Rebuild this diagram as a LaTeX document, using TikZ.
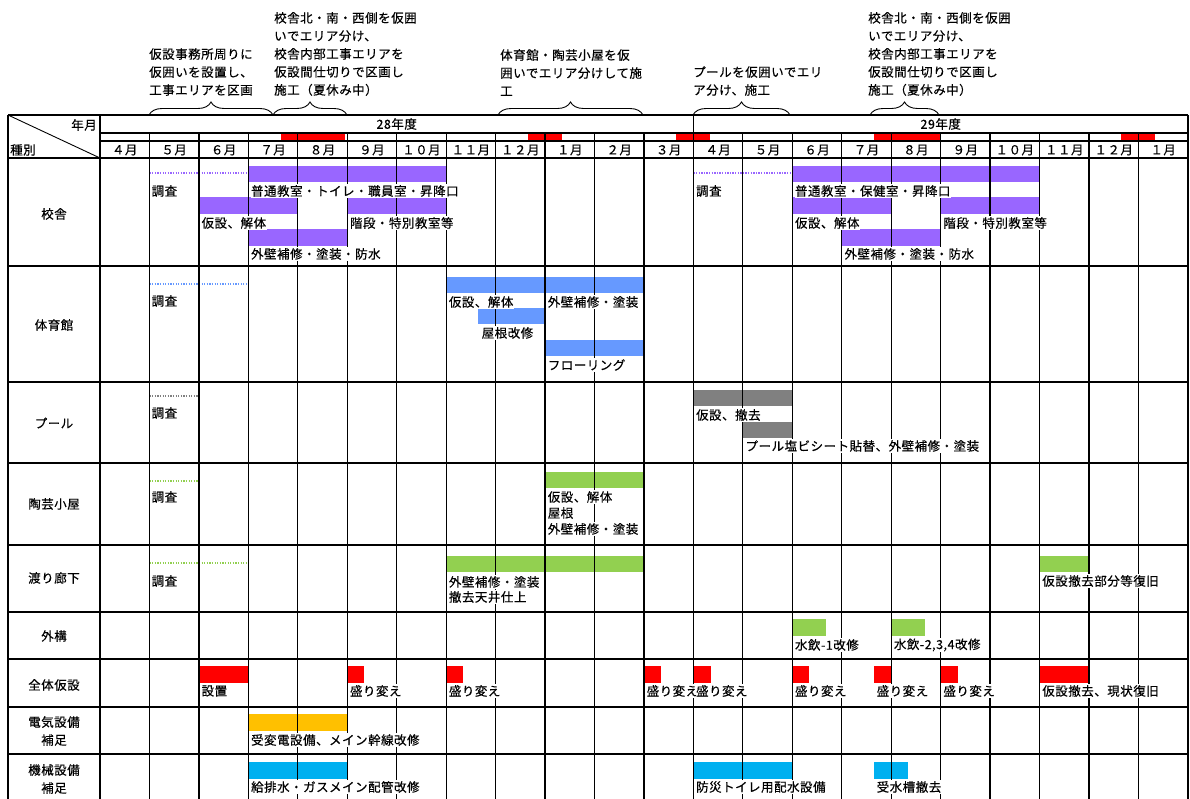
\documentclass[tikz,border=0pt]{standalone}
\usepackage{fontspec}
\newfontfamily\jp[LetterSpace=4,FakeBold=0.4]{Noto Sans CJK JP}
\usetikzlibrary{decorations.pathreplacing}
\definecolor{cpurple}{HTML}{9966FF}
\definecolor{cblue}{HTML}{6699FF}
\definecolor{cgray}{HTML}{808080}
\definecolor{cgreen}{HTML}{92D050}
\definecolor{cred}{HTML}{FF0000}
\definecolor{corange}{HTML}{FFC000}
\definecolor{ccyan}{HTML}{00B0F0}
\begin{document}
\begin{tikzpicture}[x=1pt,y=-1pt,
  every node/.style={font=\jp\fontsize{12.5}{18}\selectfont, inner sep=0pt},
  lab/.style={anchor=west, fill=white, inner xsep=0.5pt, inner ysep=1pt},
  cat/.style={align=center},
  note/.style={anchor=south west, align=left},
  gridline/.style={line width=1.25pt, black},
  survey/.style={line width=1.5pt, dash pattern=on 1.3pt off 1.3pt},
  brc/.style={decorate, decoration={brace, amplitude=13pt}, line width=0.9pt},
]
\useasboundingbox (0,0) rectangle (1190,799);

% ---------- annotations above the table ----------
\node[note] (n1) at (149,96) {仮設事務所周りに\\仮囲いを設置し、\\工事エリアを区画};
\node[note] (n2) at (274,96) {校舎北・南・西側を仮囲\\いでエリア分け、\\校舎内部工事エリアを\\仮設間仕切りで区画し\\施工（夏休み中）};
\node[note] (n3) at (500,96) {体育館・陶芸小屋を仮\\囲いでエリア分けして施\\工};
\node[note] (n4) at (693,96) {プールを仮囲いでエリ\\ア分け、施工};
\node[note] (n5) at (868,96) {校舎北・南・西側を仮囲\\いでエリア分け、\\校舎内部工事エリアを\\仮設間仕切りで区画し\\施工（夏休み中）};
\coordinate (b1a) at (149,115); \coordinate (b1b) at (273,115);
\coordinate (b2a) at (273,115); \coordinate (b2b) at (347,115);
\coordinate (b3a) at (498,115); \coordinate (b3b) at (643,115);
\coordinate (b4a) at (693,115); \coordinate (b4b) at (790,115);
\coordinate (b5a) at (870,115); \coordinate (b5b) at (939,115);
\draw[brc] (b1a) -- (b1b);
\draw[brc] (b2a) -- (b2b);
\draw[brc] (b3a) -- (b3b);
\draw[brc] (b4a) -- (b4b);
\draw[brc] (b5a) -- (b5b);

% ---------- red marks in header strip ----------
\fill[cred] (281,133) rectangle (345,141);
\fill[cred] (528,133) rectangle (562,141);
\fill[cred] (676,133) rectangle (710,141);
\fill[cred] (874,133) rectangle (940.7,141);
\fill[cred] (1121,133) rectangle (1155,141);

% ---------- bars ----------
% 校舎
\fill[cpurple] (248.4,166) rectangle (446.2,182.5);
\fill[cpurple] (198.9,197.5) rectangle (297.8,214);
\fill[cpurple] (347.3,197.5) rectangle (446.2,214);
\fill[cpurple] (248.4,229.5) rectangle (347.3,246);
\fill[cpurple] (792.3,166) rectangle (1039.6,182.5);
\fill[cpurple] (792.3,197.5) rectangle (891.2,214);
\fill[cpurple] (940.7,197.5) rectangle (1039.6,214);
\fill[cpurple] (841.8,229.5) rectangle (940.7,246);
\draw[survey, cpurple] (149.5,173) -- (248.4,173);
\draw[survey, cpurple] (693.4,173) -- (792.3,173);
% 体育館
\fill[cblue] (446.2,277) rectangle (644,293);
\fill[cblue] (478,308) rectangle (545.1,324);
\fill[cblue] (545.1,340) rectangle (644,356);
\draw[survey, cblue] (149.5,284) -- (248.4,284);
% プール
\fill[cgray] (693.4,390) rectangle (792.3,406);
\fill[cgray] (742.9,422) rectangle (792.3,438);
\draw[survey, cgray] (149.5,396) -- (198.9,396);
% 陶芸小屋
\fill[cgreen] (545.1,472) rectangle (644,488);
\draw[survey, cgreen] (149.5,481) -- (198.9,481);
% 渡り廊下
\fill[cgreen] (446.2,556) rectangle (644,572);
\fill[cgreen] (1039.6,556) rectangle (1089,572);
\draw[survey, cgreen] (149.5,563) -- (248.4,563);
% 外構
\fill[cgreen] (792.3,619) rectangle (826,636);
\fill[cgreen] (891.2,619) rectangle (925,636);
% 全体仮設
\foreach \a/\b in {198.9/248.4, 347.3/364, 446.2/463, 644/661, 693.4/711, 792.3/809, 874/891.2, 940.7/957.5, 1039.6/1089}
  \fill[cred] (\a,666) rectangle (\b,683);
% 電気設備補足
\fill[corange] (248.4,714) rectangle (347.3,730.5);
% 機械設備補足
\fill[ccyan] (248.4,762) rectangle (347.3,778.5);
\fill[ccyan] (693.4,762) rectangle (792.3,778.5);
\fill[ccyan] (874,762) rectangle (908,778.5);

% ---------- grid ----------
\draw[gridline] (8,115) -- (1187.9,115);
\draw[gridline] (100,133) -- (1187.9,133);
\draw[gridline] (100,141) -- (1187.9,141);
\foreach \y in {158,266,382,463,545,612,659,707,754}
  \draw[gridline] (8,\y) -- (1187.9,\y);
\draw[gridline] (8,115) -- (8,799);
\draw[gridline] (100,115) -- (100,799);
\draw[gridline] (693.4,115) -- (693.4,799);
\draw[gridline] (1187.9,115) -- (1187.9,799);
\foreach \i in {1,...,21}
  \draw[gridline] ({100+49.45*\i},133) -- ({100+49.45*\i},799);
\draw[line width=0.9pt] (8,115) -- (100,158);

% ---------- header texts ----------
\node[anchor=east] (hym) at (97,125) {年月};
\node[anchor=west] (hsb) at (10,150) {種別};
\node (y28) at (396.7,124) {28年度};
\node (y29) at (940.7,124) {29年度};
\foreach \i/\t in {0/４月,1/５月,2/６月,3/７月,4/８月,5/９月,6/１０月,7/１１月,8/１２月,9/１月,10/２月,11/３月,12/４月,13/５月,14/６月,15/７月,16/８月,17/９月,18/１０月,19/１１月,20/１２月,21/１月}
  \node (mon\i) at ({100+49.45*(\i+0.5)},150) {\t};

% ---------- category labels ----------
\node[cat] (c1) at (54,214) {校舎};
\node[cat] (c2) at (54,325) {体育館};
\node[cat] (c3) at (54,423) {プール};
\node[cat] (c4) at (54,504) {陶芸小屋};
\node[cat] (c5) at (54,578) {渡り廊下};
\node[cat] (c6) at (54,636) {外構};
\node[cat] (c7) at (54,685) {全体仮設};
\node[cat] (c8) at (54,731) {電気設備\\補足};
\node[cat] (c9) at (54,779) {機械設備\\補足};

% ---------- bar labels ----------
% 校舎
\node[lab] (l1) at (151,191) {調査};
\node[lab] (l2) at (250.4,191) {普通教室・トイレ・職員室・昇降口};
\node[lab] (l3) at (200.9,223) {仮設、解体};
\node[lab] (l4) at (349.3,223) {階段・特別教室等};
\node[lab] (l5) at (250.4,254) {外壁補修・塗装・防水};
\node[lab] (l6) at (695.4,191) {調査};
\node[lab] (l7) at (794.3,191) {普通教室・保健室・昇降口};
\node[lab] (l8) at (794.3,223) {仮設、解体};
\node[lab] (l9) at (942.7,223) {階段・特別教室等};
\node[lab] (l10) at (843.8,254) {外壁補修・塗装・防水};
% 体育館
\node[lab] (l11) at (151,301) {調査};
\node[lab] (l12) at (448.2,302) {仮設、解体};
\node[lab] (l13) at (547.1,302) {外壁補修・塗装};
\node[lab] (l14) at (481,333) {屋根改修};
\node[lab] (l15) at (547.1,365) {フローリング};
% プール
\node[lab] (l16) at (151,413) {調査};
\node[lab] (l17) at (695.4,415) {仮設、撤去};
\node[lab] (l18) at (744.9,446) {プール塩ビシート貼替、外壁補修・塗装};
% 陶芸小屋
\node[lab] (l19) at (151,497) {調査};
\node[lab] (l20) at (547.1,497) {仮設、解体};
\node[lab] (l21) at (547.1,513) {屋根};
\node[lab] (l22) at (547.1,529) {外壁補修・塗装};
% 渡り廊下
\node[lab] (l23) at (151,581) {調査};
\node[lab] (l24) at (448.2,582) {外壁補修・塗装};
\node[lab] (l25) at (448.2,597) {撤去天井仕上};
\node[lab] (l26) at (1041.6,581) {仮設撤去部分等復旧};
% 外構
\node[lab] (l27) at (794.3,645) {水飲-1改修};
\node[lab] (l28) at (893.2,645) {水飲-2,3,4改修};
% 全体仮設
\node[lab] (l29) at (200.9,691) {設置};
\node[lab] (l30) at (349.3,691) {盛り変え};
\node[lab] (l31) at (448.2,691) {盛り変え};
\node[lab] (l32) at (646,691) {盛り変え};
\node[lab] (l33) at (695.4,691) {盛り変え};
\node[lab] (l34) at (794.3,691) {盛り変え};
\node[lab] (l35) at (876,691) {盛り変え};
\node[lab] (l36) at (942.7,691) {盛り変え};
\node[lab] (l37) at (1041.6,691) {仮設撤去、現状復旧};
% 電気設備補足
\node[lab] (l38) at (250.4,740) {受変電設備、メイン幹線改修};
% 機械設備補足
\node[lab] (l39) at (250.4,787) {給排水・ガスメイン配管改修};
\node[lab] (l40) at (695.4,787) {防災トイレ用配水設備};
\node[lab] (l41) at (876,787) {受水槽撤去};
\end{tikzpicture}
\end{document}
